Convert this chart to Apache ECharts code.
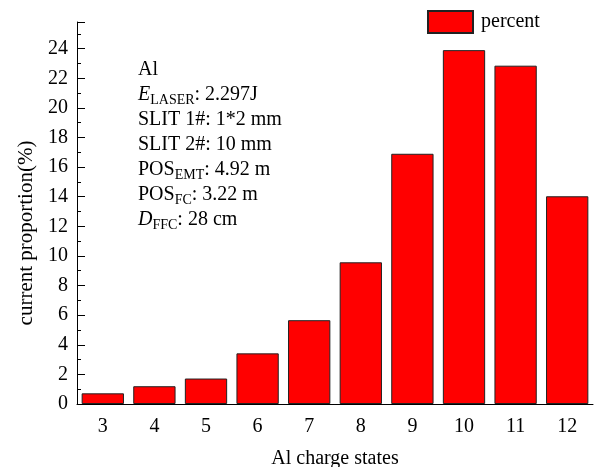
<!DOCTYPE html>
<html>
<head>
<meta charset="utf-8">
<script src="https://cdn.jsdelivr.net/npm/echarts@6/dist/echarts.min.js"></script>
<style>
  html, body { margin: 0; padding: 0; background: #fff; }
  #chart { width: 599px; height: 467px; }
</style>
</head>
<body>
<div id="chart"></div>
<script>
// 电荷态与对应电流比例
const chargeStates = ['3', '4', '5', '6', '7', '8', '9', '10', '11', '12'];
const percentValues = [0.72, 1.2, 1.72, 3.42, 5.66, 9.57, 16.9, 23.9, 22.85, 14.03];
const yTicks = [0, 2, 4, 6, 8, 10, 12, 14, 16, 18, 20, 22, 24];

const FONT = '"Liberation Serif", "DejaVu Serif", serif';

const myChart = echarts.init(document.getElementById('chart'));
const option = {
  animation: false,
  textStyle: { fontFamily: FONT },
  grid: { left: 77, right: 6, top: 22, bottom: 63, containLabel: false, outerBoundsMode: 'none' },
  legend: {
    left: 427,
    top: 10,
    padding: 0,
    icon: 'rect',
    itemWidth: 45,
    itemHeight: 22,
    itemGap: 10,
    textStyle: { fontFamily: FONT, fontSize: 20, color: '#000', padding: [0, 0, 0, 3] },
    data: ['percent']
  },
  xAxis: {
    type: 'category',
    data: chargeStates,
    name: 'Al charge states',
    nameLocation: 'middle',
    nameGap: 45,
    nameTextStyle: { fontFamily: FONT, fontSize: 20, color: '#000' },
    axisLine: { lineStyle: { color: '#000', width: 1 } },
    axisTick: { show: false },
    axisLabel: { fontFamily: FONT, fontSize: 20, color: '#000', margin: 13 }
  },
  yAxis: {
    type: 'value',
    min: 0,
    max: 25.8,
    interval: 2,
    name: 'current proportion(%)',
    nameLocation: 'middle',
    nameGap: 40,
    // 右侧留白使旋转后的标题向下移动
    nameTextStyle: { fontFamily: FONT, fontSize: 21, color: '#000', padding: [0, 40, 0, 0] },
    splitLine: { show: false },
    axisLine: { show: true, lineStyle: { color: '#000', width: 1 } },
    axisTick: { show: true, inside: true, length: 8, lineStyle: { color: '#000' } },
    minorTick: { show: true, splitNumber: 2, length: 4, lineStyle: { color: '#000' } },
    axisLabel: {
      fontFamily: FONT, fontSize: 20, color: '#000', margin: 9,
      showMaxLabel: false,
      formatter: function (v) { return yTicks.indexOf(v) >= 0 ? String(v) : ''; }
    }
  },
  graphic: [
    {
      type: 'text',
      left: 138,
      top: 57,
      style: {
        text: [
          'Al',
          '{it|E}{sub|LASER}: 2.297J',
          'SLIT 1#: 1*2 mm',
          'SLIT 2#: 10 mm',
          'POS{sub|EMT}: 4.92 m',
          'POS{sub|FC}: 3.22 m',
          '{it|D}{sub|FFC}: 28 cm'
        ].join('\n'),
        fontFamily: FONT,
        fontSize: 20,
        lineHeight: 25,
        fill: '#000',
        rich: {
          it: { fontFamily: FONT, fontSize: 20, fontStyle: 'italic', lineHeight: 25 },
          sub: { fontFamily: FONT, fontSize: 14, lineHeight: 14, verticalAlign: 'bottom' }
        }
      }
    }
  ],
  series: [
    {
      name: 'percent',
      type: 'bar',
      data: percentValues,
      barCategoryGap: '18%',
      itemStyle: { color: '#ff0000', borderColor: '#222', borderWidth: 1 }
    }
  ]
};
myChart.setOption(option);
</script>
</body>
</html>
